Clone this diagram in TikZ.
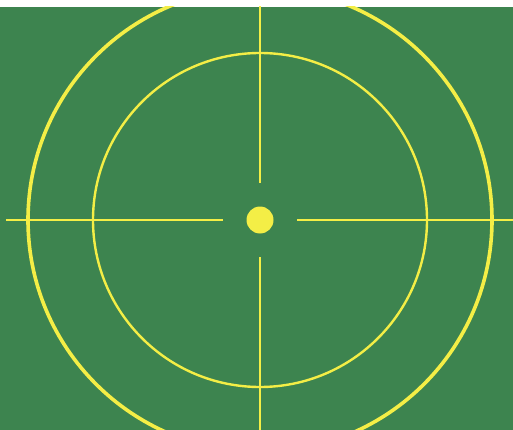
\documentclass[tikz,border=0pt]{standalone}
\begin{document}
\begin{tikzpicture}[x=1pt,y=-1pt]
\definecolor{bggreen}{HTML}{3D844F}
\definecolor{ylw}{HTML}{F4EE46}
\tikzset{ring/.style={draw=ylw,line width=#1}, hair/.style={draw=ylw,line width=2.5pt}}
\useasboundingbox (0,0) rectangle (513,430);
\fill[white] (0,0) rectangle (513,430);
\fill[bggreen] (0,7) rectangle (513,430);
\begin{scope}
\clip (0,7) rectangle (513,430);
\coordinate (c) at (260,220);
\draw[ring=3.6pt] (c) circle[radius=232];
\draw[ring=2.4pt] (c) circle[radius=167];
\coordinate (l) at (6,220);
\coordinate (lg) at (223,220);
\coordinate (rg) at (297,220);
\coordinate (r) at (514,220);
\coordinate (t) at (260,6);
\coordinate (tg) at (260,183);
\coordinate (bg) at (260,257);
\coordinate (b) at (260,431);
\draw[hair] (l) -- (lg);
\draw[hair] (rg) -- (r);
\draw[hair] (t) -- (tg);
\draw[hair] (bg) -- (b);
\fill[ylw] (c) circle[radius=13.5];
\end{scope}
\end{tikzpicture}
\end{document}
